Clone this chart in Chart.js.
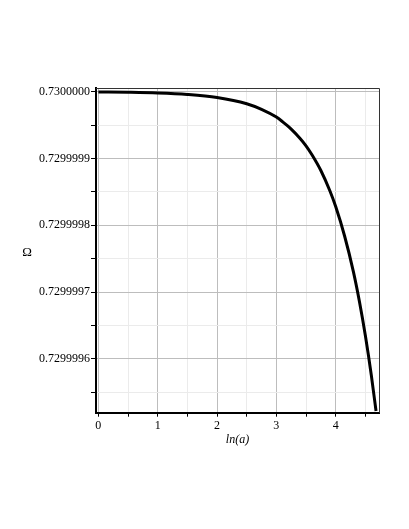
<!DOCTYPE html>
<html>
<head>
<meta charset="utf-8">
<script src="https://cdn.jsdelivr.net/npm/chart.js@4.4.1/dist/chart.umd.min.js"></script>
<style>
  html, body { margin: 0; padding: 0; background: #fff; }
  canvas { display: block; }
</style>
</head>
<body>
<canvas id="omegaChart" width="409" height="529"></canvas>
<script>
// Data
const lnA = [0, 0.5, 1, 1.5, 2, 2.5, 2.75, 3, 3.1, 3.25, 3.4, 3.5, 3.6, 3.75, 3.9, 4, 4.15, 4.3, 4.4, 4.5, 4.6, 4.68];
const omega = [
    0.7299999996, 0.7299999991, 0.7299999981, 0.7299999959, 0.7299999914,
    0.7299999820, 0.7299999736, 0.7299999620, 0.7299999553, 0.7299999440,
    0.7299999300, 0.7299999190, 0.7299999056, 0.7299998820, 0.7299998520,
    0.7299998280, 0.7299997840, 0.7299997300, 0.7299996860, 0.7299996350,
    0.7299995760, 0.7299995220
];
const xTickLabels = ['0', '1', '2', '3', '4'];
const yTickLabels = ['0.7299996', '0.7299997', '0.7299998', '0.7299999', '0.7300000'];

const serif = '"Liberation Serif", "DejaVu Serif", serif';

function isMajorX(v) { return Math.abs(v - Math.round(v)) < 1e-6; }
function isMajorY(v) { return Math.round(v * 1e8) % 10 === 0; }

// Frame and axis titles
const framePlugin = {
    id: 'frame',
    afterDraw(chart) {
        const { ctx, chartArea: a } = chart;
        ctx.save();
        ctx.strokeStyle = '#333';
        ctx.lineWidth = 1;
        ctx.beginPath();
        ctx.moveTo(a.left, a.top + 0.5);
        ctx.lineTo(a.right + 0.5, a.top + 0.5);
        ctx.lineTo(a.right + 0.5, a.bottom);
        ctx.stroke();

        ctx.fillStyle = '#000';
        ctx.textAlign = 'center';
        ctx.textBaseline = 'middle';
        ctx.font = '13px ' + serif;
        ctx.fillText('Ω', 27, (a.top + a.bottom) / 2 + 2);
        ctx.font = 'italic 12px ' + serif;
        ctx.fillText('ln(a)', (a.left + a.right) / 2, a.bottom + 27);
        ctx.restore();
    }
};

const ctx = document.getElementById('omegaChart').getContext('2d');
new Chart(ctx, {
    type: 'line',
    data: {
        datasets: [{
            data: lnA.map((x, i) => ({ x: x, y: omega[i] })),
            borderColor: '#000',
            borderWidth: 3,
            pointRadius: 0,
            fill: false,
            cubicInterpolationMode: 'monotone'
        }]
    },
    options: {
        responsive: false,
        animation: false,
        layout: { padding: { left: 0, right: 30, top: 88, bottom: 0 } },
        plugins: {
            legend: { display: false },
            tooltip: { enabled: false }
        },
        scales: {
            x: {
                type: 'linear',
                min: -0.04,
                max: 4.73,
                afterFit(scale) { scale.height = 116.3; },
                border: { color: '#000', width: 2 },
                grid: {
                    color: (c) => isMajorX(c.tick.value) ? '#bdbdbd' : '#ebebeb',
                    tickColor: '#000',
                    tickLength: 4,
                    lineWidth: 1
                },
                ticks: {
                    stepSize: 0.5,
                    includeBounds: false,
                    autoSkip: false,
                    maxRotation: 0,
                    padding: 2,
                    color: '#000',
                    font: { family: serif, size: 12 },
                    callback: (v) => isMajorX(v) ? xTickLabels[Math.round(v)] : ''
                }
            },
            y: {
                type: 'linear',
                min: 0.7299995195,
                max: 0.7300000055,
                afterFit(scale) { scale.width = 96; },
                border: { color: '#000', width: 2 },
                grid: {
                    color: (c) => isMajorY(c.tick.value) ? '#bdbdbd' : '#ebebeb',
                    tickColor: '#000',
                    tickLength: 5,
                    lineWidth: 1
                },
                ticks: {
                    stepSize: 0.00000005,
                    includeBounds: false,
                    autoSkip: false,
                    padding: 1,
                    color: '#000',
                    font: { family: serif, size: 12 },
                    callback: (v) => {
                        if (!isMajorY(v)) return '';
                        const idx = Math.round((v - 0.7299996) * 1e7);
                        return yTickLabels[idx];
                    }
                }
            }
        }
    },
    plugins: [framePlugin]
});
</script>
</body>
</html>
